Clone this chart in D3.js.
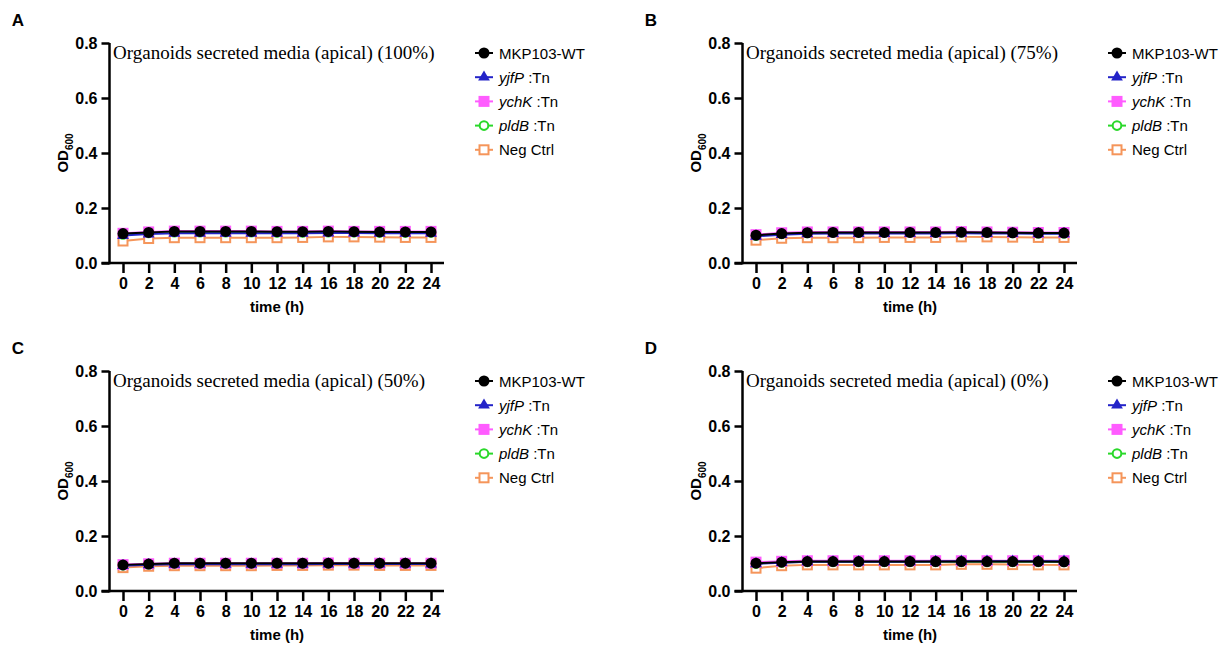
<!DOCTYPE html>
<html>
<head>
<meta charset="utf-8">
<script src="https://cdn.jsdelivr.net/npm/d3@7"></script>
<style>
  body { margin: 0; background: #fff; }
  svg { display: block; }
</style>
</head>
<body>
<svg id="chart" width="1227" height="647"></svg>
<script>
// time points (h) and y ticks
var timePoints = [0, 2, 4, 6, 8, 10, 12, 14, 16, 18, 20, 22, 24];
var yTicks = [0, 0.2, 0.4, 0.6, 0.8];

var seriesNames = ["MKP103-WT", "yjfP", "ychK", "pldB", "Neg Ctrl"];
var seriesColors = ["#000000", "#2323c8", "#ff5cff", "#2ad82a", "#f5955a"];

var panelLabels = ["A", "B", "C", "D"];
var panelTitles = [
  "Organoids secreted media (apical) (100%)",
  "Organoids secreted media (apical) (75%)",
  "Organoids secreted media (apical) (50%)",
  "Organoids secreted media (apical) (0%)"
];

// OD600 values
var wt100   = [0.107, 0.111, 0.115, 0.115, 0.115, 0.115, 0.114, 0.114, 0.115, 0.114, 0.113, 0.113, 0.113];
var yjfp100 = [0.100, 0.105, 0.108, 0.108, 0.108, 0.108, 0.108, 0.108, 0.109, 0.109, 0.108, 0.108, 0.108];
var ychk100 = [0.108, 0.113, 0.116, 0.116, 0.116, 0.116, 0.115, 0.115, 0.116, 0.115, 0.115, 0.115, 0.115];
var pldb100 = [0.104, 0.109, 0.112, 0.112, 0.112, 0.112, 0.111, 0.111, 0.112, 0.112, 0.111, 0.111, 0.111];
var neg100  = [0.080, 0.089, 0.092, 0.092, 0.092, 0.092, 0.092, 0.093, 0.095, 0.095, 0.094, 0.093, 0.093];

var wt75   = [0.101, 0.107, 0.110, 0.111, 0.111, 0.111, 0.111, 0.111, 0.112, 0.111, 0.110, 0.109, 0.109];
var yjfp75 = [0.097, 0.103, 0.106, 0.107, 0.107, 0.107, 0.107, 0.107, 0.108, 0.107, 0.107, 0.106, 0.106];
var ychk75 = [0.103, 0.110, 0.113, 0.113, 0.113, 0.113, 0.113, 0.113, 0.114, 0.113, 0.112, 0.111, 0.111];
var pldb75 = [0.099, 0.106, 0.109, 0.110, 0.110, 0.110, 0.110, 0.110, 0.111, 0.110, 0.109, 0.108, 0.108];
var neg75  = [0.083, 0.090, 0.092, 0.092, 0.092, 0.093, 0.093, 0.093, 0.095, 0.095, 0.094, 0.093, 0.093];

var wt50   = [0.095, 0.098, 0.101, 0.101, 0.101, 0.101, 0.101, 0.101, 0.101, 0.101, 0.101, 0.101, 0.101];
var yjfp50 = [0.092, 0.095, 0.097, 0.097, 0.097, 0.097, 0.097, 0.097, 0.098, 0.098, 0.098, 0.098, 0.098];
var ychk50 = [0.096, 0.099, 0.101, 0.101, 0.101, 0.101, 0.101, 0.101, 0.102, 0.101, 0.101, 0.101, 0.101];
var pldb50 = [0.094, 0.097, 0.099, 0.099, 0.099, 0.099, 0.099, 0.099, 0.100, 0.099, 0.099, 0.099, 0.099];
var neg50  = [0.085, 0.090, 0.092, 0.092, 0.092, 0.092, 0.093, 0.093, 0.094, 0.094, 0.093, 0.093, 0.093];

var wt0   = [0.101, 0.105, 0.107, 0.107, 0.107, 0.107, 0.107, 0.107, 0.107, 0.107, 0.107, 0.107, 0.106];
var yjfp0 = [0.099, 0.103, 0.106, 0.106, 0.106, 0.106, 0.106, 0.107, 0.108, 0.108, 0.108, 0.108, 0.108];
var ychk0 = [0.105, 0.108, 0.110, 0.110, 0.110, 0.110, 0.110, 0.110, 0.110, 0.110, 0.110, 0.110, 0.110];
var pldb0 = [0.100, 0.104, 0.106, 0.106, 0.106, 0.106, 0.106, 0.106, 0.106, 0.106, 0.106, 0.106, 0.106];
var neg0  = [0.083, 0.092, 0.095, 0.095, 0.095, 0.095, 0.095, 0.095, 0.097, 0.097, 0.096, 0.095, 0.095];

var panelSeries = [
  [wt100, yjfp100, ychk100, pldb100, neg100],
  [wt75, yjfp75, ychk75, pldb75, neg75],
  [wt50, yjfp50, ychk50, pldb50, neg50],
  [wt0, yjfp0, ychk0, pldb0, neg0]
];

var panelOffsets = [[0, 0], [633, 0], [0, 328], [633, 328]];

var SANS = "'Liberation Sans', Arial, sans-serif";
var SERIF = "'Liberation Serif', 'Times New Roman', serif";

var svg = d3.select("#chart");

// draw one marker of series k centered at 0,0
function drawMarker(sel, k)
{
  var c = seriesColors[k];
  if (k === 0) {
    sel.append("circle").attr("r", 5.5).attr("fill", c);
  } else if (k === 1) {
    sel.append("path").attr("d", d3.symbol().type(d3.symbolTriangle).size(60)).attr("fill", c);
  } else if (k === 2) {
    sel.append("rect").attr("x", -5.5).attr("y", -5.5).attr("width", 11).attr("height", 11).attr("fill", c);
  } else if (k === 3) {
    sel.append("circle").attr("r", 4.3).attr("fill", "#fff").attr("stroke", c).attr("stroke-width", 2);
  } else {
    sel.append("rect").attr("x", -4.5).attr("y", -4.5).attr("width", 9).attr("height", 9)
      .attr("fill", "#fff").attr("stroke", c).attr("stroke-width", 2);
  }
}

function drawPanel(p)
{
  var off = panelOffsets[p];
  var g = svg.append("g").attr("transform", "translate(" + off[0] + "," + off[1] + ")");

  var x = d3.scaleLinear().domain([0, 24]).range([123, 431]);
  var y = d3.scaleLinear().domain([0, 0.8]).range([263, 43]);
  var axisX = 109.5;

  // panel letter
  g.append("text").attr("x", 18).attr("y", 26).attr("text-anchor", "middle")
    .style("font-family", SANS).style("font-weight", "bold").style("font-size", "17px")
    .text(panelLabels[p]);

  // y axis
  var yAxis = g.append("g").attr("transform", "translate(" + axisX + ",0)")
    .call(d3.axisLeft(y).tickValues(yTicks).tickFormat(d3.format(".1f")).tickSize(8).tickSizeOuter(0).tickPadding(4));
  yAxis.select(".domain").attr("stroke-width", 2.5).attr("d", "M0," + (y(0) + 1.2) + "V" + y(0.8));
  yAxis.selectAll(".tick line").attr("stroke-width", 2.5);
  yAxis.selectAll("text").style("font-family", SANS).style("font-weight", "bold").style("font-size", "16px").attr("fill", "#000");

  // x axis
  var xAxis = g.append("g").attr("transform", "translate(0," + y(0) + ")")
    .call(d3.axisBottom(x).tickValues(timePoints).tickSize(10).tickSizeOuter(0).tickPadding(5));
  xAxis.select(".domain").attr("stroke-width", 2.5).attr("d", "M" + (axisX - 8) + ",0H444");
  xAxis.selectAll(".tick line").attr("stroke-width", 2.5);
  xAxis.selectAll("text").style("font-family", SANS).style("font-weight", "bold").style("font-size", "16px").attr("fill", "#000");

  // axis titles
  g.append("text").attr("x", (x(0) + x(24)) / 2).attr("y", 312).attr("text-anchor", "middle")
    .style("font-family", SANS).style("font-weight", "bold").style("font-size", "15px")
    .text("time (h)");

  var yl = g.append("text").attr("transform", "translate(68," + ((y(0) + y(0.8)) / 2) + ") rotate(-90)")
    .attr("text-anchor", "middle")
    .style("font-family", SANS).style("font-weight", "bold").style("font-size", "15px");
  yl.append("tspan").text("OD");
  yl.append("tspan").attr("dy", 5).style("font-size", "10px").text("600");

  // title
  g.append("text").attr("x", 113).attr("y", 59)
    .style("font-family", SERIF).style("font-size", "19px")
    .text(panelTitles[p]);

  // series, drawn from Neg Ctrl up to WT so WT is on top
  var line = d3.line().x(function(d, i) { return x(timePoints[i]); }).y(function(d) { return y(d); });
  for (var k = seriesNames.length - 1; k >= 0; k--) {
    var vals = panelSeries[p][k];
    g.append("path").datum(vals).attr("d", line)
      .attr("fill", "none").attr("stroke", seriesColors[k]).attr("stroke-width", 2);
    g.selectAll(".m" + k).data(vals).enter().append("g")
      .attr("class", "m" + k)
      .attr("transform", function(d, i) { return "translate(" + x(timePoints[i]) + "," + y(d) + ")"; })
      .each(function() { drawMarker(d3.select(this), k); });
  }

  // legend
  var legend = g.append("g").attr("transform", "translate(484,53)");
  seriesNames.forEach(function(name, k) {
    var row = legend.append("g").attr("transform", "translate(0," + (k * 24.2) + ")");
    row.append("line").attr("x1", -9).attr("x2", 9).attr("stroke", seriesColors[k]).attr("stroke-width", 2);
    drawMarker(row, k);
    var t = row.append("text").attr("x", 15).attr("y", 5.5)
      .style("font-family", SANS).style("font-size", "15px");
    if (k === 0 || k === 4) {
      t.text(name);
    } else {
      t.append("tspan").style("font-style", "italic").text(name);
      t.append("tspan").text(" :Tn");
    }
  });
}

for (var p = 0; p < 4; p++) {
  drawPanel(p);
}
</script>
</body>
</html>
